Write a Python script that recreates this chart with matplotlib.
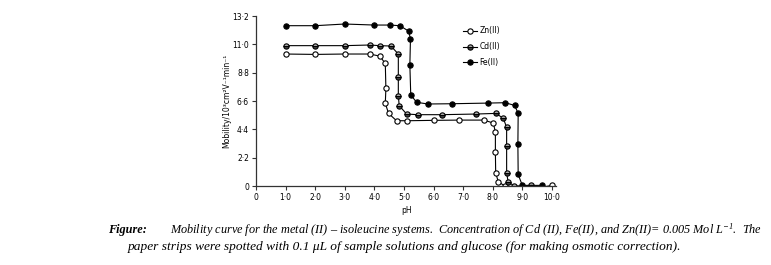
import matplotlib.pyplot as plt

plt.rcParams["mathtext.fontset"] = "custom"
plt.rcParams["mathtext.rm"] = "Liberation Serif:italic"
plt.rcParams["mathtext.it"] = "Liberation Serif:italic"

# pH values and mobilities
zn_ph = [1.0, 2.0, 3.0, 3.84, 4.18, 4.37, 4.39, 4.37, 4.48, 4.75, 5.12, 6.0, 6.87, 7.7,
         8.02, 8.09, 8.09, 8.1, 8.19, 8.41, 9.45, 10.0]
zn_mob = [10.25, 10.22, 10.25, 10.25, 10.09, 9.52, 7.58, 6.42, 5.64, 5.07, 5.07, 5.1, 5.12, 5.12,
          4.89, 4.19, 2.61, 1.0, 0.33, 0.0, -0.18, 0.05]

cd_ph = [1.0, 2.0, 3.0, 3.84, 4.19, 4.56, 4.81, 4.81, 4.81, 4.84, 5.09, 5.47, 6.27, 7.43,
         8.11, 8.36, 8.47, 8.47, 8.47, 8.52, 8.72, 9.28]
cd_mob = [10.9, 10.9, 10.9, 10.95, 10.9, 10.87, 10.25, 8.44, 7.01, 6.24, 5.59, 5.54, 5.54, 5.59,
          5.64, 5.25, 4.55, 3.13, 1.0, 0.35, 0.0, 0.05]

fe_ph = [1.0, 2.0, 3.0, 4.0, 4.52, 4.86, 5.16, 5.22, 5.2, 5.23, 5.43, 5.81, 6.63, 7.83,
         8.42, 8.74, 8.86, 8.85, 8.86, 9.0, 9.65]
fe_mob = [12.45, 12.45, 12.58, 12.5, 12.5, 12.45, 12.03, 11.41, 9.39, 7.07, 6.5, 6.37, 6.39, 6.44,
          6.47, 6.26, 5.64, 3.23, 0.9, 0.05, 0.05]

x_ticks = [0, 1, 2, 3, 4, 5, 6, 7, 8, 9, 10]
x_labels = ["0", "1·0", "2·0", "3·0", "4·0", "5·0", "6·0", "7·0", "8·0", "9·0", "10·0"]
y_ticks = [0, 2.2, 4.4, 6.6, 8.8, 11.0, 13.2]
y_labels = ["0", "2·2", "4·4", "6·6", "8·8", "11·0", "13·2"]

fig = plt.figure(figsize=(7.71, 2.65), dpi=100)
ax = fig.add_axes([0.332, 0.298, 0.3896, 0.6415])

ax.plot(zn_ph, zn_mob, color="black", lw=0.8, marker="o", ms=3.8,
        mfc="white", mec="black", mew=0.8, label="Zn(II)")
ax.plot(cd_ph, cd_mob, color="black", lw=0.8, marker="o", ms=3.8, fillstyle="bottom",
        mfc="#444444", mfcalt="#b0b0b0", mec="black", mew=0.8, label="Cd(II)")
ax.plot(fe_ph, fe_mob, color="black", lw=0.8, marker="o", ms=3.8,
        mfc="black", mec="black", mew=0.8, label="Fe(II)")

ax.set_xlim(0, 10.15)
ax.set_ylim(0, 13.2)
ax.set_xticks(x_ticks)
ax.set_xticklabels(x_labels)
ax.set_yticks(y_ticks)
ax.set_yticklabels(y_labels)
ax.tick_params(labelsize=5.5, width=0.8, length=3, color="#333333", pad=2)
for s in ["top", "right"]:
    ax.spines[s].set_visible(False)
for s in ["left", "bottom"]:
    ax.spines[s].set_linewidth(0.9)
    ax.spines[s].set_color("#333333")
ax.set_xlabel("pH", fontsize=5.5, labelpad=3)
ax.set_ylabel("Mobility/10³cm²V⁻¹min⁻¹", fontsize=5.5, labelpad=1)

ax.legend(loc="upper left", bbox_to_anchor=(0.596, 0.915), bbox_transform=fig.transFigure,
          frameon=False, fontsize=5.5, handlelength=1.8, borderpad=0, labelspacing=0.9,
          handletextpad=0.3)

cap = {"family": "Liberation Serif", "style": "italic", "va": "center"}
fig.text(0.14, 0.132, "Figure:", fontweight="bold", fontsize=8.8, **cap)
fig.text(0.221, 0.132, "Mobility curve for the metal (II) – isoleucine systems.  Concentration of "
         "Cd (II), Fe(II), and Zn(II)= 0.005 Mol L$^{-1}$.  The", fontsize=8.8, **cap)
fig.text(0.525, 0.068, "paper strips were spotted with 0.1 μL of sample solutions and glucose "
         "(for making osmotic correction).", ha="center", fontsize=9.6, **cap)

fig.savefig("out.png", dpi=100)
